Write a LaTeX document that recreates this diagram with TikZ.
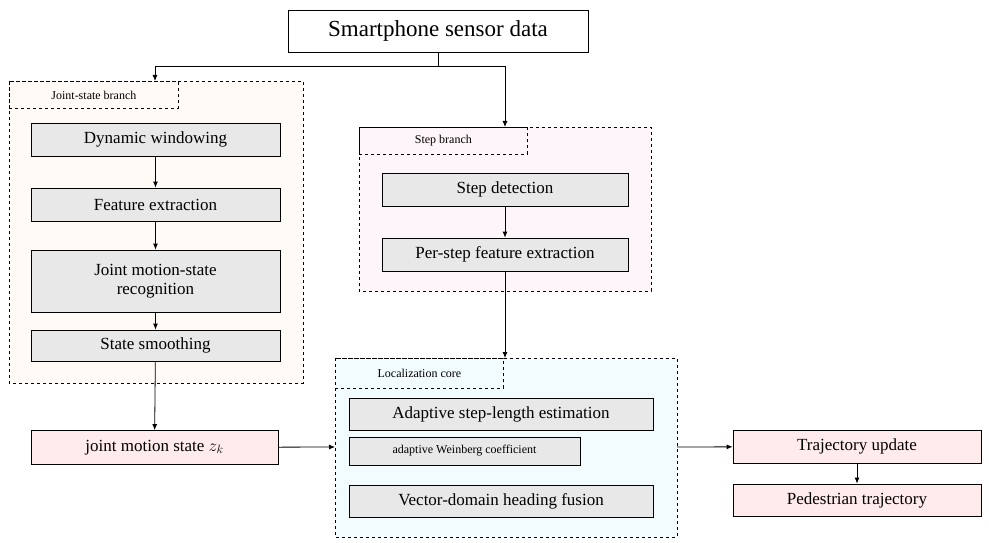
\documentclass[tikz,border=0pt]{standalone}
\usepackage{fontspec}
\setmainfont{Liberation Serif}
\usetikzlibrary{arrows.meta}
\begin{document}
\begin{tikzpicture}[x=1pt,y=-1pt,
 gbox/.style={draw,thick,fill=gray!18,minimum height=33pt,font=\fontsize{17}{19}\selectfont,align=center,inner sep=0pt},
 pbox/.style={draw,thick,fill=red!8,minimum height=34pt,font=\fontsize{17}{19}\selectfont,inner sep=0pt},
 grp/.style={draw,thick,dashed},
 tab/.style={draw,thick,dashed,font=\fontsize{12}{14}\selectfont,inner sep=0pt},
 arr/.style={-{Latex[length=6pt,width=5pt]},thick}]
\useasboundingbox (0,0) rectangle (989,543);
% groups
\draw[grp,fill=orange!4] (9,81) rectangle (303,383);
\node[tab,minimum width=169pt,minimum height=27pt,anchor=north west] (t1) at (9,81) {Joint-state branch};
\draw[grp,fill=magenta!4] (359,127) rectangle (651,291);
\node[tab,minimum width=168pt,minimum height=27pt,anchor=north west] (t2) at (359,127) {Step branch};
\draw[grp,fill=cyan!5] (335,358) rectangle (677,537);
\node[tab,minimum width=168pt,minimum height=30pt,anchor=north west] (t3) at (335,358) {Localization core};
\coordinate (g1top) at (155,81);
\coordinate (g2top) at (505,127);
\coordinate (g3top) at (505,358);
\coordinate (g3l) at (335,447);
\coordinate (g3r) at (677,447);
% nodes
\node[draw,thick,fill=white,minimum width=300pt,minimum height=42pt,font=\fontsize{23}{26}\selectfont,inner sep=0pt] (src) at (438,31) {Smartphone sensor data};
\node[gbox,minimum width=249pt] (dw) at (155.5,139.5) {Dynamic windowing};
\node[gbox,minimum width=249pt] (fe) at (155.5,204.5) {Feature extraction};
\node[gbox,minimum width=249pt,minimum height=62pt] (jm) at (155.5,281) {Joint motion-state\\recognition};
\node[gbox,minimum width=249pt,minimum height=31pt] (ss) at (155.5,345.5) {State smoothing};
\node[pbox,minimum width=247pt] (jz) at (154.5,447.5) {joint motion state $z_k$};
\node[gbox,minimum width=246pt] (sd) at (505,189.5) {Step detection};
\node[gbox,minimum width=246pt] (ps) at (505,254.5) {Per-step feature extraction};
\node[gbox,minimum width=304pt,minimum height=32pt] (as) at (501,414) {Adaptive step-length estimation};
\node[gbox,minimum width=231pt,minimum height=28pt,font=\fontsize{12}{14}\selectfont] (aw) at (464.5,451) {adaptive Weinberg coefficient};
\node[gbox,minimum width=304pt,minimum height=32pt] (vd) at (501,501) {Vector-domain heading fusion};
\node[pbox,minimum width=248pt,minimum height=33pt] (tu) at (857,446.5) {Trajectory update};
\node[pbox,minimum width=248pt,minimum height=32pt] (pt) at (857,500) {Pedestrian trajectory};
% connectors
\draw[thick] (src.south) -- (438,66) coordinate (sp);
\draw[arr] (sp) -| (g1top);
\draw[arr] (sp) -| (g2top);
\draw[arr] (dw) -- (fe);
\draw[arr] (fe) -- (jm);
\draw[arr] (jm) -- (ss);
\draw[arr] (ss) -- (jz);
\draw[arr] (sd) -- (ps);
\draw[arr] (ps) -- (g3top);
\draw[arr] (jz) -- (g3l);
\draw[arr] (g3r) -- (tu);
\draw[arr] (tu) -- (pt);
\end{tikzpicture}
\end{document}
